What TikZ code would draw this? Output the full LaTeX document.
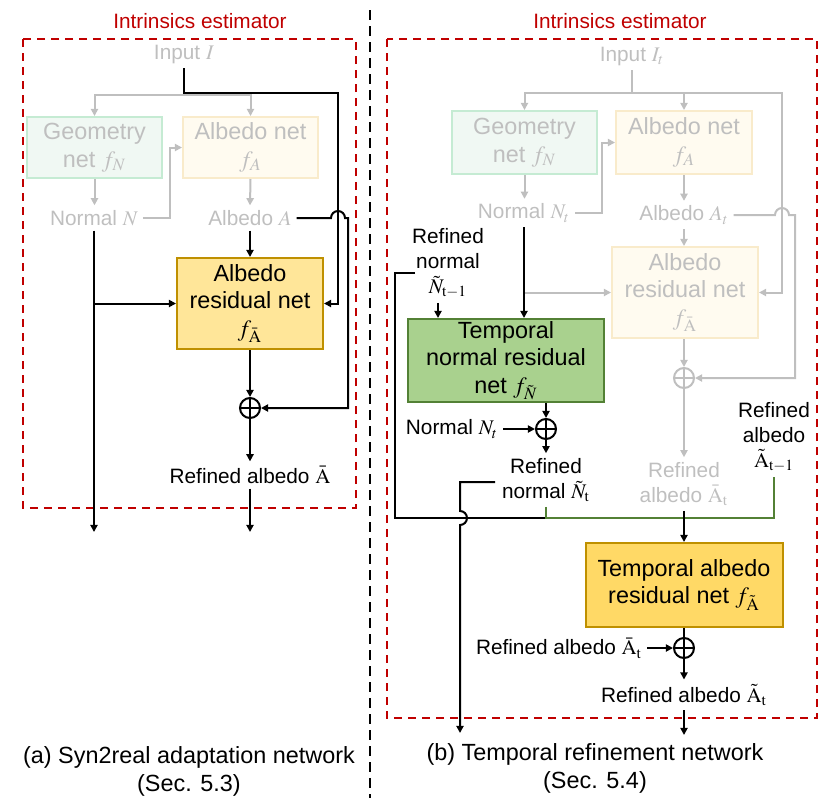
\documentclass[tikz,border=0pt]{standalone}
\usepackage{mathptmx}
\usepackage[no-math]{fontspec}
\setmainfont{Liberation Sans}
\usetikzlibrary{arrows.meta}

\definecolor{estred}{HTML}{C00000}
\definecolor{fade}{HTML}{BFBFBF}
\definecolor{geofill}{HTML}{F0F8F3}
\definecolor{geoline}{HTML}{C5EBD3}
\definecolor{albfill}{HTML}{FFFBF0}
\definecolor{albline}{HTML}{F9EBCB}
\definecolor{gold}{HTML}{BF9000}
\definecolor{resfill}{HTML}{FFE699}
\definecolor{tafill}{HTML}{FFD966}
\definecolor{greenfill}{HTML}{A9D18E}
\definecolor{darkgreen}{HTML}{538135}

\tikzset{
  lbl/.style={font=\fontsize{10.4}{12.6}\selectfont, align=center, inner sep=2pt},
  captxt/.style={font=\fontsize{11.7}{14}\selectfont, align=center},
  faded/.style={text=fade},
  netbox/.style={draw, line width=1pt, align=center, font=\fontsize{11.7}{13.8}\selectfont, inner sep=1pt},
  geobox/.style={netbox, draw=geoline, fill=geofill, text=fade},
  albbox/.style={netbox, draw=albline, fill=albfill, text=fade},
  resbox/.style={netbox, draw=gold, fill=resfill},
  tnbox/.style={netbox, draw=darkgreen, fill=greenfill},
  tabox/.style={netbox, draw=gold, fill=tafill},
  sum/.style={circle, draw, line width=1pt, minimum size=10pt, inner sep=0pt},
  barrow/.style={->, draw=black},
  garrow/.style={->, draw=fade},
  grnline/.style={draw=darkgreen},
  estbox/.style={draw=estred, dash pattern=on 4pt off 3pt, line width=1pt},
}

\begin{document}
\begin{tikzpicture}[x=0.5pt, y=-0.5pt, line width=1pt,
  >={Triangle[length=3.6pt,width=3.6pt]}]
\useasboundingbox (0,0) rectangle (830,810);

% ---------- (a) syn2real adaptation network ----------
\node[lbl, text=estred] (titleL) at (200,21) {Intrinsics estimator};
\draw[estbox] (23,39) rectangle (356,508);
\node[lbl, faded] (inL) at (184,54) {Input $I$};
\node[geobox, minimum width=67.5pt, minimum height=30.5pt] (geoL) at (94.5,147.5) {Geometry\\net $f_N$};
\node[albbox, minimum width=67.5pt, minimum height=30.5pt] (albL) at (250.5,147.5) {Albedo net\\$f_A$};
\node[lbl, faded] (nrmL) at (94,218) {Normal $N$};
\node[lbl, faded] (abL) at (250,218) {Albedo $A$};
\node[resbox, minimum width=73pt, minimum height=45.5pt] (resL) at (250,303.5) {Albedo\\residual net\\$f_{\bar{\mathrm{A}}}$};
\node[sum] (plusL) at (250,408) {};
\node[lbl] (outL) at (250,475) {Refined albedo $\bar{\mathrm{A}}$};
\node[captxt] (capL) at (189,771) {(a) Syn2real adaptation network\\(Sec. 5.3)};

\coordinate (forkL) at (185,95);
\coordinate (turnL) at (338,93);
\coordinate (elbowL) at (170,147.5);
\coordinate (hopL) at (331,218);
\coordinate (endNL) at (94,532);
\coordinate (endAL) at (250,532);

\draw[garrow] (forkL) -| (geoL);
\draw[garrow] (forkL) -| (albL);
\draw[garrow] (geoL.south) -- (geoL.south |- nrmL.north);
\draw[garrow] (nrmL.east) -| (elbowL) -- (albL.west);
\draw[garrow] (albL.south) -- (abL.north);

\draw[barrow] (inL.south) |- (turnL) |- (resL.east);
\draw[barrow] (abL.east) -- (hopL) arc[start angle=180, end angle=0, radius=3.5pt] -- (348,218) |- (plusL.east);
\draw[barrow] (nrmL.south) -- (endNL);
\draw[barrow] (nrmL.south |- resL.west) -- (resL.west);
\draw[barrow] (abL.south) -- (resL.north);
\draw[barrow] (resL.south) -- (plusL.north);
\draw[barrow] (plusL.south) -- (outL.north);
\draw[barrow] (outL.south) -- (endAL);

% separator
\draw[dash pattern=on 5pt off 3pt] (370,10) -- (370,798);

% ---------- (b) temporal refinement network ----------
\node[lbl, text=estred] (titleR) at (620,21) {Intrinsics estimator};
\draw[estbox] (387,39) rectangle (817,718);
\node[lbl, faded] (inR) at (632,56) {Input $I_t$};
\node[geobox, minimum width=72.5pt, minimum height=31.5pt] (geoR) at (524.5,142.5) {Geometry\\net $f_N$};
\node[albbox, minimum width=68pt, minimum height=31.5pt] (albR) at (684,142.5) {Albedo net\\$f_A$};
\node[lbl, faded] (nrmR) at (524,213) {Normal $N_t$};
\node[lbl, faded] (abR) at (684,215) {Albedo $A_t$};
\node[albbox, minimum width=73pt, minimum height=45.5pt] (resR) at (685,292.5) {Albedo\\residual net\\$f_{\bar{\mathrm{A}}}$};
\node[sum, draw=fade] (plusR) at (684,378) {};
\node[lbl, faded] (raR) at (684,484) {Refined\\albedo $\bar{\mathrm{A}}_{\mathrm{t}}$};
\node[lbl] (rnPrev) at (448,263) {Refined\\normal\\$\tilde{N}_{\mathrm{t-1}}$};
\node[tnbox, minimum width=98pt, minimum height=41.5pt] (tnR) at (506,360.5) {Temporal\\normal residual\\net $f_{\tilde{N}}$};
\node[sum] (plusN) at (546,429) {};
\node[lbl] (nlab) at (452,429) {Normal $N_t$};
\node[lbl] (rnR) at (546,480) {Refined\\normal $\tilde{N}_{\mathrm{t}}$};
\node[lbl] (raPrev) at (774,437) {Refined\\albedo\\$\tilde{\mathrm{A}}_{\mathrm{t-1}}$};
\node[tabox, minimum width=98.5pt, minimum height=42pt] (taR) at (684,585) {Temporal albedo\\residual net $f_{\tilde{\mathrm{A}}}$};
\node[sum] (plusA) at (684,648) {};
\node[lbl] (ralab) at (559,648) {Refined albedo $\bar{\mathrm{A}}_{\mathrm{t}}$};
\node[lbl] (outR) at (684,695) {Refined albedo $\tilde{\mathrm{A}}_{\mathrm{t}}$};
\node[captxt] (capR) at (595,768) {(b) Temporal refinement network\\(Sec. 5.4)};

\coordinate (forkR) at (632,93);
\coordinate (turnR) at (782,93);
\coordinate (elbowR) at (602,142.5);
\coordinate (hopR) at (775,215);
\coordinate (rnPrevIn) at (415,273);
\coordinate (cornN) at (395,518);
\coordinate (jN) at (546,518);
\coordinate (jA) at (774,518);
\coordinate (rnOut) at (495,482);
\coordinate (rnTurn) at (460,482);
\coordinate (endNR) at (460,733);
\coordinate (endAR) at (684,735);

\draw[garrow] (forkR) -| (geoR);
\draw[garrow] (forkR) -| (albR);
\draw[garrow] (inR.south) |- (turnR) |- (resR.east);
\draw[garrow] (geoR.south) -- (geoR.south |- nrmR.north);
\draw[garrow] (nrmR.east) -| (elbowR) -- (albR.west);
\draw[garrow] (albR.south) -- (abR.north);
\draw[garrow] (abR.east) -- (hopR) arc[start angle=180, end angle=0, radius=3.5pt] -- (795,215) |- (plusR.east);
\draw[garrow] (abR.south) -- (abR.south |- resR.north);
\draw[garrow] (plusR.north |- resR.south) -- (plusR.north);
\draw[garrow] (plusR.south) -- (raR.north);
\draw[garrow] (nrmR.south |- resR.west) -- (resR.west);

\draw[barrow] (nrmR.south) -- (nrmR.south |- tnR.north);
\draw[barrow] ([xshift=-5pt]rnPrev.south) -- ([xshift=-5pt]rnPrev.south |- tnR.north);
\draw (rnPrevIn) -| (cornN) -- (jN);
\draw[barrow] (plusN.north |- tnR.south) -- (plusN.north);
\draw[barrow] (nlab.east) -- (plusN.west);
\draw[barrow] (plusN.south) -- (rnR.north);
\draw[barrow] (rnOut) -- (rnTurn) -- (460,511) arc[start angle=90, end angle=-90, radius=3.5pt] -- (endNR);
\draw[grnline] (rnR.south) -- (jN) -- (jA) -- (raPrev.south);
\draw[barrow] (raR.south) -- (raR.south |- taR.north);
\draw (taR.south) -- (plusA.north);
\draw[barrow] (ralab.east) -- (plusA.west);
\draw[barrow] (plusA.south) -- (outR.north);
\draw[barrow] (outR.south) -- (endAR);

% crosses of the sums
\foreach \s in {plusL,plusN,plusA}
  \draw (\s.north) -- (\s.south) (\s.west) -- (\s.east);
\draw[fade] (plusR.north) -- (plusR.south) (plusR.west) -- (plusR.east);
\end{tikzpicture}
\end{document}
